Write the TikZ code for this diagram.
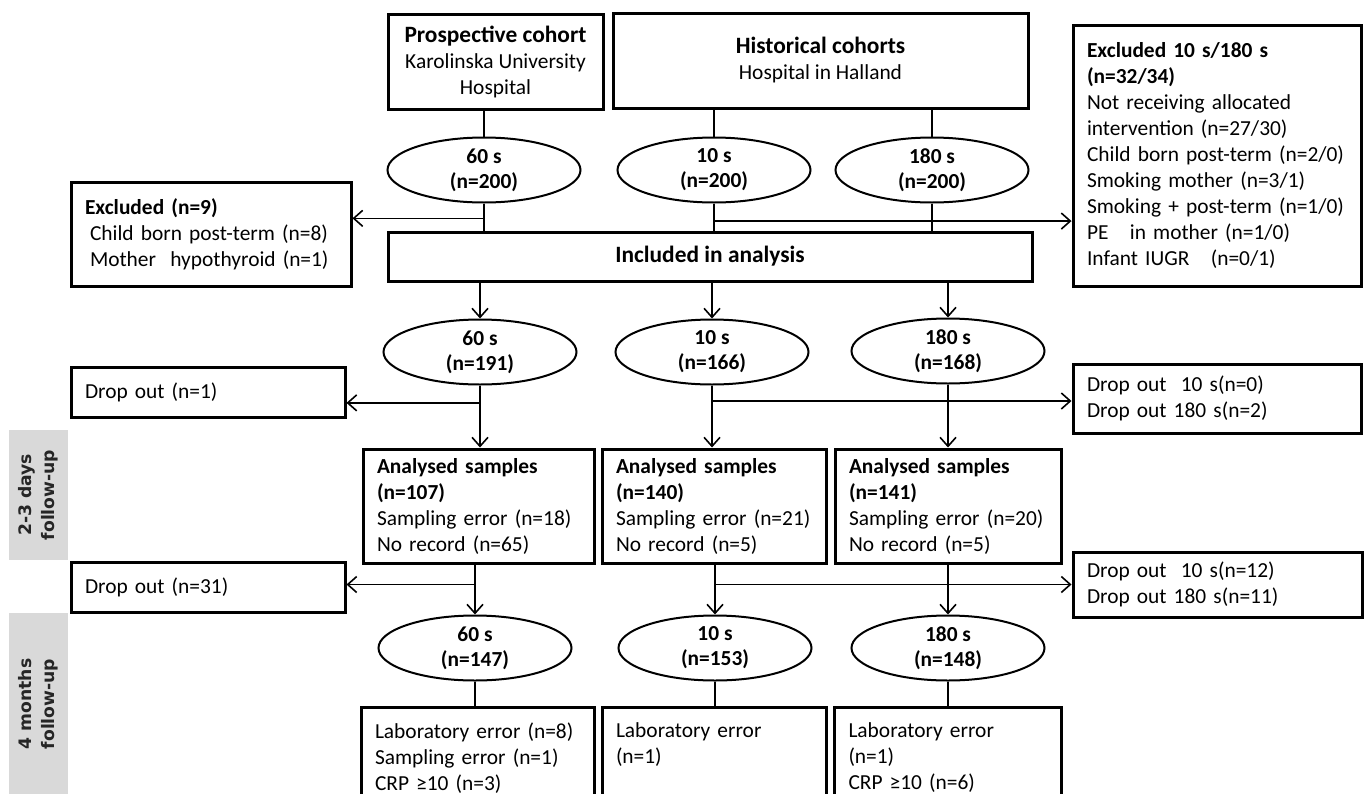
\documentclass[tikz,border=0pt]{standalone}
\usepackage{fontspec}
\setmainfont{Carlito}
\newfontfamily\panelfont{DejaVu Sans}
\usetikzlibrary{arrows.meta,shapes.geometric,calc}
\definecolor{panelgray}{RGB}{217,217,217}
\definecolor{panelink}{RGB}{38,38,38}
\newcommand{\hdrtext}[1]{{\fontsize{11.7}{13}\selectfont\bfseries #1}}
\tikzset{
  flowbox/.style={draw,line width=1.5pt,align=left,inner xsep=7pt,inner ysep=3pt,
    font=\fontsize{10.7}{13}\selectfont},
  headbox/.style={draw,line width=1.5pt,align=center,inner sep=2pt,
    font=\fontsize{10.7}{13}\selectfont},
  armnode/.style={ellipse,draw,line width=1pt,minimum width=96.5pt,minimum height=32.5pt,
    inner sep=0pt,align=center,font=\fontsize{10.7}{12.5}\selectfont\bfseries},
  sidepanel/.style={fill=panelgray,text=panelink,rotate=90,align=center,inner sep=0pt,
    font=\panelfont\fontsize{8.6}{11.5}\selectfont\bfseries},
  link/.style={line width=0.8pt},
  flow/.style={link,-{Straight Barb[length=4.5pt,width=8pt]}}
}

\begin{document}
\begin{tikzpicture}[x=0.5pt,y=-0.5pt]
  \useasboundingbox (0,0) rectangle (1366,793);
  % cohorts
  \node[headbox,minimum width=107.5pt,minimum height=47.5pt] (prosp) at (495.5,61.5)
    {\hdrtext{Prospective cohort}\\Karolinska University\\Hospital};
  \node[headbox,minimum width=207.5pt,minimum height=47.5pt] (hist) at (820.5,60.5)
    {\hdrtext{Historical cohorts}\\Hospital in Halland};
  \node[armnode] (e60a) at (484,170) {60 s\\(n=200)};
  \node[armnode] (e10a) at (714,170) {10 s\\(n=200)};
  \node[armnode] (e180a) at (932,170) {180 s\\(n=200)};
  \node[flowbox,text width=126pt,minimum height=52pt] (exclL) at (211,234)
    {\textbf{Excluded (n=9)}\\\hspace*{2.5pt}Child born post-term (n=8)\\\hspace*{2.5pt}Mother\ \ hypothyroid (n=1)};
  \node[flowbox,text width=130pt,minimum height=130.5pt] (exclR) at (1217,155.5)
    {\textbf{Excluded 10 s/180 s}\\\textbf{(n=32/34)}\\Not receiving allocated\\intervention (n=27/30)\\Child born post-term (n=2/0)\\Smoking mother (n=3/1)\\Smoking + post-term (n=1/0)\\PE\ \ \ in mother (n=1/0)\\Infant IUGR\ \ \ (n=0/1)};
  \node[headbox,minimum width=322pt,minimum height=24.5pt] (incl) at (710,256.5)
    {\hdrtext{Included in analysis}};
  % included arms
  \node[armnode] (e60b) at (480,352) {60 s\\(n=191)};
  \node[armnode] (e10b) at (712,352) {10 s\\(n=166)};
  \node[armnode] (e180b) at (948,351) {180 s\\(n=168)};
  \node[flowbox,text width=123pt,minimum height=25pt] (drop1) at (208,392) {Drop out (n=1)};
  \node[flowbox,text width=130pt,minimum height=34.5pt] (drop2) at (1217,398.5)
    {Drop out\ \ 10 s(n=0)\\Drop out 180 s(n=2)};
  % 2-3 days
  \node[flowbox,text width=101.5pt,minimum height=57pt] (ana60) at (478.5,506)
    {\textbf{Analysed samples}\\\textbf{(n=107)}\\Sampling error (n=18)\\No record (n=65)};
  \node[flowbox,text width=98pt,minimum height=57pt] (ana10) at (714,506)
    {\textbf{Analysed samples}\\\textbf{(n=140)}\\Sampling error (n=21)\\No record (n=5)};
  \node[flowbox,text width=99pt,minimum height=57pt] (ana180) at (948,506)
    {\textbf{Analysed samples}\\\textbf{(n=141)}\\Sampling error (n=20)\\No record (n=5)};
  \node[flowbox,text width=123pt,minimum height=25pt] (drop3) at (208,587) {Drop out (n=31)};
  \node[flowbox,text width=130.5pt,minimum height=32.5pt] (drop4) at (1217.5,584.5)
    {Drop out\ \ 10 s(n=12)\\Drop out 180 s(n=11)};
  % 4 months
  \node[armnode] (e60c) at (475,648) {60 s\\(n=147)};
  \node[armnode] (e10c) at (715,648) {10 s\\(n=153)};
  \node[armnode] (e180c) at (948,648) {180 s\\(n=148)};
  \node[flowbox,text width=102.5pt,inner ysep=7.5pt,anchor=north] (lab60) at (477.5,706)
    {Laboratory error (n=8)\\Sampling error (n=1)\\CRP ≥10 (n=3)};
  \node[flowbox,text width=98pt,inner ysep=7.5pt,anchor=north] (lab10) at (714,706)
    {Laboratory error\\(n=1)\\\mbox{}};
  \node[flowbox,text width=99.5pt,inner ysep=7.5pt,anchor=north] (lab180) at (948,706)
    {Laboratory error\\(n=1)\\CRP ≥10 (n=6)};
  % side labels
  \node[sidepanel,minimum width=65pt,minimum height=29.5pt] (days) at (38.5,495) {2-3 days\\follow-up};
  \node[sidepanel,minimum width=91pt,minimum height=29.5pt] (months) at (38.5,704) {4 months\\follow-up};

  \draw[link] (e60a.north |- prosp.south) -- (e60a.north);
  \draw[link] (e10a.north |- hist.south) -- (e10a.north);
  \draw[link] (e180a.north |- hist.south) -- (e180a.north);
  \draw[link] (e60a.south) -- (e60a.south |- incl.north);
  \draw[link] (e10a.south) -- (e10a.south |- incl.north);
  \draw[link] (e180a.south) -- (e180a.south |- incl.north);
  \coordinate (exL) at ($(e60a.south)!0.55!(e60a.south |- incl.north)$);
  \coordinate (exR) at ($(e10a.south)!0.65!(e10a.south |- incl.north)$);
  \draw[flow] (exL) -- (exL -| exclL.east);
  \draw[flow] (exR) -- (exR -| exclR.west);

  \draw[flow] (incl.south -| e60b.north) -- (e60b.north);
  \draw[flow] (incl.south -| e10b.north) -- (e10b.north);
  \draw[flow] (incl.south -| e180b.north) -- (e180b.north);
  \draw[flow] (e60b.south) -- (e60b.south |- ana60.north);
  \draw[flow] (e10b.south) -- (e10b.south |- ana10.north);
  \draw[flow] (e180b.south) -- (e180b.south |- ana180.north);
  \coordinate (dl1) at ($(e60b.south)!0.28!(e60b.south |- ana60.north)$);
  \coordinate (dr1) at ($(e10b.south)!0.25!(e10b.south |- ana10.north)$);
  \draw[flow] (dl1) -- (dl1 -| drop1.east);
  \draw[flow] (dr1) -- (dr1 -| drop2.west);

  \draw[flow] (ana60.south -| e60c.north) -- (e60c.north);
  \draw[flow] (ana10.south -| e10c.north) -- (e10c.north);
  \draw[flow] (ana180.south -| e180c.north) -- (e180c.north);
  \coordinate (dl2) at ($(ana60.south -| e60c.north)!0.4!(e60c.north)$);
  \coordinate (dr2) at ($(ana10.south -| e10c.north)!0.4!(e10c.north)$);
  \draw[flow] (dl2) -- (dl2 -| drop3.east);
  \draw[flow] (dr2) -- (dr2 -| drop4.west);
  \draw[link] (e60c.south) -- (e60c.south |- lab60.north);
  \draw[link] (e10c.south) -- (e10c.south |- lab10.north);
  \draw[link] (e180c.south) -- (e180c.south |- lab180.north);
\end{tikzpicture}
\end{document}
